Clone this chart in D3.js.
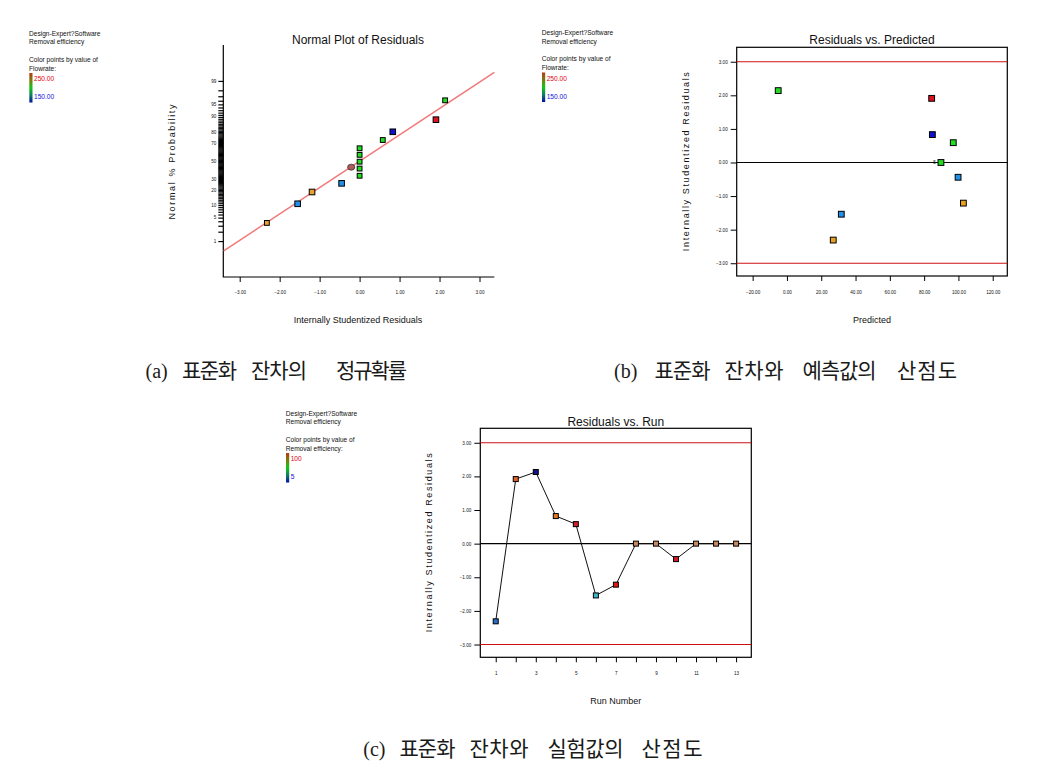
<!DOCTYPE html>
<html lang="ko">
<head>
<meta charset="UTF-8">
<title>Residual diagnostics</title>
<script src="https://d3js.org/d3.v7.min.js"></script>
<style>
    body { margin: 0; background: #fff; }
    svg { display: block; }
    text { font-family: "Liberation Sans", Arial, sans-serif; fill: #111; }
    .tick-lbl { font-size: 4.6px; }
    .legend text { font-size: 6.6px; }
    .title { font-size: 12px; }
    .axis-title { font-size: 9px; }
    .cap-ko { font-size: 21px; font-family: "Noto Sans CJK KR", sans-serif; fill: #1a1a1a; }
    .cap-lat { font-size: 20px; font-family: "Liberation Serif", "DejaVu Serif", serif; fill: #1a1a1a; }
</style>
</head>
<body>
<script>
// ---- data ----
// (a) normal plot: residual, normal % probability, colour, shape
const normResid = [-2.32, -1.55, -1.19, -0.45, -0.21, 0, 0, 0, 0, 0, 0.58, 0.83, 1.91, 2.14];
const normProb  = [3.6, 10.7, 18.4, 25.8, 42.9, 64.4, 57.1, 49.2, 41.3, 33.4, 72.9, 80.2, 88.5, 96.1];
const normColor = ["#e8a030", "#2090e8", "#e8a030", "#2090e8", "#b05a5a", "#22dd22", "#22dd22", "#22dd22",
                   "#22dd22", "#22dd22", "#22dd22", "#1010cc", "#dd1122", "#22dd22"];
const normShape = ["sq", "sq", "sq", "sq", "circle", "sq", "sq", "sq", "sq", "sq", "sq", "sq", "sq", "sq"];
const normLineResid = [-3.40, 3.37];
const normLineProb  = [0.45, 99.5];
const probLabels = [1, 5, 10, 20, 30, 50, 70, 80, 90, 95, 99];

// (b) residuals vs predicted
const predX     = [-5.1, 84.4, 84.8, 97.0, 89.8, 99.8, 102.9, 31.7, 27.0];
const predResid = [2.14, 1.91, 0.83, 0.59, 0.0, -0.44, -1.21, -1.54, -2.31];
const predColor = ["#22dd22", "#dd1122", "#1010cc", "#22dd22", "#22dd22", "#2090e8", "#e8a020", "#2090e8", "#e8a020"];
const predTicks = [-20, 0, 20, 40, 60, 80, 100, 120];

// (c) residuals vs run
const runNo    = [1, 2, 3, 4, 5, 6, 7, 8, 9, 10, 11, 12, 13];
const runResid = [-2.31, 1.92, 2.13, 0.82, 0.58, -1.54, -1.22, 0, 0, -0.46, 0, 0, 0];
const runColor = ["#2a6ec8", "#e06028", "#10108a", "#e07a28", "#d0202a", "#40b8c8", "#e01818",
                  "#c88a60", "#c88a60", "#d01828", "#c88a60", "#c88a60", "#c88a60"];
const runLabels = [1, 3, 5, 7, 9, 11, 13];

const residTicks = [3, 2, 1, 0, -1, -2, -3];
const limits = [3, -3];

const W = 1041, H = 773;
const svg = d3.select("body").append("svg").attr("width", W).attr("height", H);

const defs = svg.append("defs");
const grad = defs.append("linearGradient").attr("id", "cbar").attr("x1", 0).attr("y1", 0).attr("x2", 0).attr("y2", 1);
[["0", "#b83a10"], ["0.3", "#6a8a10"], ["0.5", "#10c818"], ["0.75", "#108060"], ["1", "#0010a8"]]
    .forEach(s => grad.append("stop").attr("offset", s[0]).attr("stop-color", s[1]));

// inverse normal cdf (Acklam)
function qnorm(p) {
    const a = [-39.6968302866538, 220.946098424521, -275.928510446969, 138.357751867269, -30.6647980661472, 2.50662827745924];
    const b = [-54.4760987982241, 161.585836858041, -155.698979859887, 66.8013118877197, -13.2806815528857];
    const c = [-0.00778489400243029, -0.322396458041136, -2.40075827716184, -2.54973253934373, 4.37466414146497, 2.93816398269878];
    const d = [0.00778469570904146, 0.32246712907004, 2.445134137143, 3.75440866190742];
    const pl = 0.02425;
    let q, r;
    if (p < pl) {
        q = Math.sqrt(-2 * Math.log(p));
        return (((((c[0]*q+c[1])*q+c[2])*q+c[3])*q+c[4])*q+c[5]) / ((((d[0]*q+d[1])*q+d[2])*q+d[3])*q+1);
    }
    if (p > 1 - pl) {
        q = Math.sqrt(-2 * Math.log(1 - p));
        return -(((((c[0]*q+c[1])*q+c[2])*q+c[3])*q+c[4])*q+c[5]) / ((((d[0]*q+d[1])*q+d[2])*q+d[3])*q+1);
    }
    q = p - 0.5; r = q * q;
    return (((((a[0]*r+a[1])*r+a[2])*r+a[3])*r+a[4])*r+a[5])*q / (((((b[0]*r+b[1])*r+b[2])*r+b[3])*r+b[4])*r+1);
}

function legend(x, y, factor, hi, lo) {
    const g = svg.append("g").attr("class", "legend").attr("transform", `translate(${x},${y})`);
    g.append("text").attr("x", 0).attr("y", 0).text("Design-Expert?Software");
    g.append("text").attr("x", 0).attr("y", 8.7).text("Removal efficiency");
    g.append("text").attr("x", 0).attr("y", 26.3).text("Color points by value of");
    g.append("text").attr("x", 0).attr("y", 35).text(factor);
    g.append("rect").attr("x", 0.3).attr("y", 37.5).attr("width", 3.2).attr("height", 29.5).attr("fill", "url(#cbar)");
    g.append("text").attr("x", 5).attr("y", 45.5).style("fill", "#e00010").text(hi);
    g.append("text").attr("x", 5).attr("y", 63.5).style("fill", "#1010e0").text(lo);
}

function square(g, cx, cy, s, fill) {
    g.append("rect").attr("x", cx - s / 2).attr("y", cy - s / 2).attr("width", s).attr("height", s)
        .attr("fill", fill).attr("stroke", "#000").attr("stroke-width", 1);
}

// ---------- (a) normal plot ----------
legend(29, 35.5, "Flowrate:", "250.00", "150.00");
{
    const L = 223.3, R = 494.3, T = 45, B = 277;
    const x = d3.scaleLinear().domain([-3.41, 3.37]).range([L, R]);
    const y = d3.scaleLinear().domain([-3.37, 3.37]).range([B, T]);
    const g = svg.append("g");
    // only left and bottom axis lines show in the original
    g.append("path").attr("d", `M${L},${T}V${B}H${R}`).attr("fill", "none").attr("stroke", "#000").attr("stroke-width", 1.2);

    const xAxis = d3.axisBottom(x).tickValues(d3.range(-3, 4)).tickFormat(d3.format(".2f")).tickSize(5).tickSizeOuter(0);
    const gx = g.append("g").attr("transform", `translate(0,${B})`).call(xAxis);
    gx.select(".domain").remove();
    gx.selectAll("text").attr("class", "tick-lbl").attr("dy", "1.9em").attr("font-size", null).attr("font-family", null);

    const yAxis = d3.axisLeft(y).tickValues(d3.range(1, 100).map(p => qnorm(p / 100))).tickFormat("").tickSize(5).tickSizeOuter(0);
    const gy = g.append("g").attr("transform", `translate(${L},0)`).call(yAxis);
    gy.select(".domain").remove();
    gy.selectAll("line").attr("stroke-width", 1.2);
    g.selectAll(".plab").data(probLabels).enter().append("text")
        .attr("class", "tick-lbl").attr("x", L - 7).attr("y", d => y(qnorm(d / 100)) + 1.6)
        .attr("text-anchor", "end").text(d => d);

    g.append("line")
        .attr("x1", x(normLineResid[0])).attr("y1", y(qnorm(normLineProb[0] / 100)))
        .attr("x2", x(normLineResid[1])).attr("y2", y(qnorm(normLineProb[1] / 100)))
        .attr("stroke", "#f07878").attr("stroke-width", 1.5);

    normResid.forEach((r, i) => {
        const cx = x(r), cy = y(qnorm(normProb[i] / 100));
        if (normShape[i] === "circle") {
            g.append("ellipse").attr("cx", cx).attr("cy", cy).attr("rx", 3.6).attr("ry", 3)
                .attr("fill", normColor[i]).attr("stroke", "#333").attr("stroke-width", 0.8);
        } else {
            square(g, cx, cy, (i === 0 || i >= 5 && i <= 10 || i === 13) ? 4.8 : 5.6, normColor[i]);
        }
    });

    g.append("text").attr("class", "title").attr("x", 358).attr("y", 44).attr("text-anchor", "middle").text("Normal Plot of Residuals");
    g.append("text").attr("class", "axis-title").attr("x", 358).attr("y", 323).attr("text-anchor", "middle")
        .text("Internally Studentized Residuals");
    g.append("text").attr("class", "axis-title").attr("transform", "translate(175,162) rotate(-90)")
        .attr("text-anchor", "middle").attr("textLength", 115).attr("lengthAdjust", "spacing").text("Normal % Probability");
}

// ---------- residual plots (b) and (c) ----------
function residPlot(o) {
    const x = d3.scaleLinear().domain(o.xDomain).range([o.L, o.R]);
    const y = d3.scaleLinear().domain([-3.38, 3.43]).range([o.B, o.T]);
    const g = svg.append("g");
    g.append("rect").attr("x", o.L).attr("y", o.T).attr("width", o.R - o.L).attr("height", o.B - o.T)
        .attr("fill", "none").attr("stroke", "#000").attr("stroke-width", 1.2);

    const xAxis = d3.axisBottom(x).tickValues(o.xTicks).tickFormat(o.xFormat).tickSize(5).tickSizeOuter(0);
    const gx = g.append("g").attr("transform", `translate(0,${o.B})`).call(xAxis);
    gx.select(".domain").remove();
    gx.selectAll("text").attr("class", "tick-lbl").attr("dy", "2.1em").attr("font-size", null).attr("font-family", null);

    const yAxis = d3.axisLeft(y).tickValues(residTicks).tickFormat(d3.format(".2f")).tickSize(6).tickSizeOuter(0);
    const gy = g.append("g").attr("transform", `translate(${o.L},0)`).call(yAxis);
    gy.select(".domain").remove();
    gy.selectAll("text").attr("class", "tick-lbl").attr("x", -9).attr("font-size", null).attr("font-family", null);

    limits.forEach(v => g.append("line").attr("x1", o.L).attr("x2", o.R).attr("y1", y(v)).attr("y2", y(v))
        .attr("stroke", "#d01010").attr("stroke-width", 1.2));
    g.append("line").attr("x1", o.L).attr("x2", o.R).attr("y1", y(0)).attr("y2", y(0))
        .attr("stroke", "#000").attr("stroke-width", 1.2);

    if (o.connect) {
        g.append("path").datum(o.xs.map((v, i) => [v, o.ys[i]]))
            .attr("d", d3.line().x(d => x(d[0])).y(d => y(d[1])))
            .attr("fill", "none").attr("stroke", "#111").attr("stroke-width", 1);
    }
    o.xs.forEach((v, i) => square(g, x(v), y(o.ys[i]), o.size, o.colors[i]));
    if (o.note) g.append("text").attr("class", "tick-lbl").attr("x", x(o.note[0]) - 5).attr("y", y(o.note[1]) + 1.6)
        .attr("text-anchor", "end").text(o.note[2]);

    const cx = (o.L + o.R) / 2;
    g.append("text").attr("class", "title").attr("x", cx).attr("y", o.titleY).attr("text-anchor", "middle").text(o.title);
    g.append("text").attr("class", "axis-title").attr("x", cx).attr("y", o.xLabelY).attr("text-anchor", "middle").text(o.xLabel);
    g.append("text").attr("class", "axis-title").attr("transform", `translate(${o.yLabelX},${(o.T + o.B) / 2}) rotate(-90)`)
        .attr("text-anchor", "middle").attr("textLength", 179).attr("lengthAdjust", "spacing")
        .text("Internally Studentized Residuals");
}

legend(541.7, 35, "Flowrate:", "250.00", "150.00");
residPlot({
    L: 736.7, R: 1007.3, T: 47.3, B: 276, xDomain: [-29.3, 128.5],
    xTicks: predTicks, xFormat: d3.format(".2f"),
    xs: predX, ys: predResid, colors: predColor, size: 5.8, connect: false,
    note: [predX[4], predResid[4], "5"],
    title: "Residuals vs. Predicted", titleY: 44, xLabel: "Predicted", xLabelY: 323, yLabelX: 689
});

legend(285.7, 415.5, "Removal efficiency:", "100", "5");
residPlot({
    L: 480.3, R: 751.3, T: 428.3, B: 657.3, xDomain: [0.23, 13.76],
    xTicks: runNo, xFormat: d => runLabels.includes(d) ? d : "",
    xs: runNo, ys: runResid, colors: runColor, size: 5, connect: true,
    title: "Residuals vs. Run", titleY: 425.5, xLabel: "Run Number", xLabelY: 704, yLabelX: 432
});

// ---------- captions: words placed as in the justified original ----------
function caption(y, words) {
    words.forEach(([txt, x, w], i) => {
        const t = svg.append("text").attr("class", i === 0 ? "cap-lat" : "cap-ko").attr("x", x).attr("y", y).text(txt);
        if (w) t.attr("textLength", w).attr("lengthAdjust", "spacing");
    });
}
caption(378, [["(a)", 145.5], ["표준화", 182, 55], ["잔차의", 251, 56], ["정규확률", 336, 71]]);
caption(378, [["(b)", 614], ["표준화", 654.5, 56], ["잔차와", 724.5, 59], ["예측값의", 802.5, 74], ["산점도", 897, 60]]);
caption(756, [["(c)", 363.3], ["표준화", 399.5, 56], ["잔차와", 469.5, 59], ["실험값의", 547.5, 76], ["산점도", 641.5, 61]]);
</script>
</body>
</html>
